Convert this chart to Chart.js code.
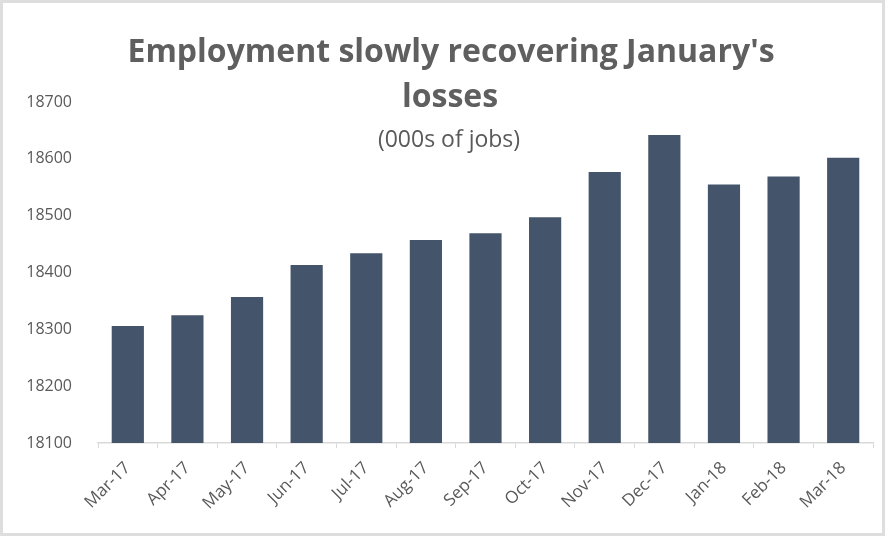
<!DOCTYPE html>
<html>
<head>
<meta charset="utf-8">
<script src="https://cdn.jsdelivr.net/npm/chart.js@4/dist/chart.umd.min.js"></script>
<style>
  html, body { margin: 0; padding: 0; background: #fff; }
  #wrap { width: 885px; height: 536px; position: relative; }
</style>
</head>
<body>
<div id="wrap"><canvas id="myChart" width="885" height="536"></canvas></div>
<script>
    // Donnees du graphique
    var months = ["Mar-17", "Apr-17", "May-17", "Jun-17", "Jul-17", "Aug-17", "Sep-17",
                  "Oct-17", "Nov-17", "Dec-17", "Jan-18", "Feb-18", "Mar-18"];
    var jobs = [18306, 18325, 18357, 18413, 18434, 18457, 18469,
                18497, 18577, 18642, 18555, 18569, 18602];
    var titleLines = ["Employment slowly recovering January's", "losses"];
    var subTitle = "(000s of jobs)";

    var textColor = '#595959';

    // fond, cadre et titre par-dessus (comme Excel)
    var decor = {
        id: 'decor',
        beforeDraw: function(chart) {
            var c = chart.ctx;
            c.save();
            c.fillStyle = '#fff';
            c.fillRect(0, 0, chart.width, chart.height);
            c.strokeStyle = '#dedede';
            c.lineWidth = 3;
            c.strokeRect(1.5, 1.5, chart.width - 3, chart.height - 3);
            c.restore();
        },
        afterDraw: function(chart) {
            var c = chart.ctx;
            c.save();
            c.fillStyle = '#5f5f5f';
            c.textAlign = 'center';
            c.textBaseline = 'alphabetic';
            c.font = 'bold 32px "Open Sans"';
            c.fillText(titleLines[0], 451, 62);
            c.fillText(titleLines[1], 450, 107);
            c.fillStyle = textColor;
            c.font = '23px "Open Sans"';
            c.fillText(subTitle, 449, 147);
            c.restore();
        }
    };

    var ctx = document.getElementById('myChart');
    var myBarChart = new Chart(ctx, {
        type: 'bar',
        data: {
            labels: months,
            datasets: [{
                data: jobs,
                backgroundColor: '#44546a',
                barPercentage: 0.54,
                categoryPercentage: 1
            }]
        },
        options: {
            responsive: false,
            animation: false,
            layout: { padding: { top: 102, right: 12, left: 10, bottom: 8 } },
            plugins: {
                legend: { display: false },
                title: { display: false },
                tooltip: { enabled: false }
            },
            scales: {
                y: {
                    min: 18100,
                    max: 18700,
                    ticks: {
                        stepSize: 100,
                        color: textColor,
                        padding: 18,
                        font: { family: 'Open Sans', size: 16 },
                        callback: function(v) { return String(v); }
                    },
                    grid: { display: false },
                    border: { display: false },
                    afterFit: function(scale) { scale.width = 88; }
                },
                x: {
                    offset: true,
                    ticks: {
                        color: textColor,
                        maxRotation: 45,
                        minRotation: 45,
                        padding: 10,
                        font: { family: 'Open Sans', size: 17 }
                    },
                    grid: {
                        drawOnChartArea: false,
                        offset: true,
                        color: '#d9d9d9',
                        tickLength: 5
                    },
                    border: { display: true, color: '#d9d9d9', width: 1.5 },
                    afterFit: function(scale) { scale.height = 85; }
                }
            }
        },
        plugins: [decor]
    });
</script>
</body>
</html>
